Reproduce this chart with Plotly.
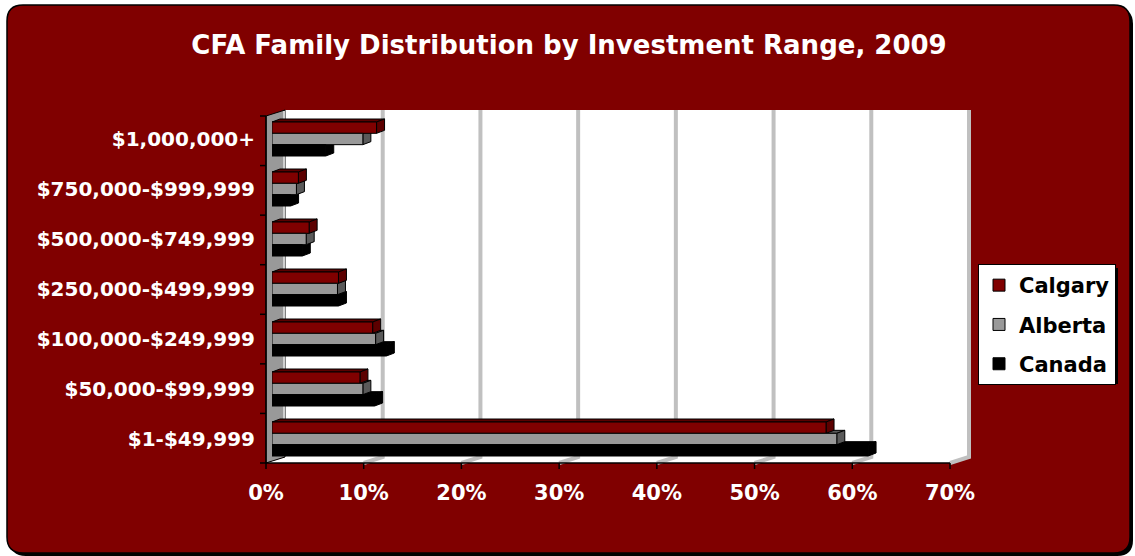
import plotly.graph_objects as go

# ---------------- data ----------------
categories = ["$1,000,000+", "$750,000-$999,999", "$500,000-$749,999",
              "$250,000-$499,999", "$100,000-$249,999", "$50,000-$99,999",
              "$1-$49,999"]
calgary = [10.7, 2.7, 3.8, 6.8, 10.3, 9.0, 56.7]
alberta = [9.3, 2.5, 3.5, 6.7, 10.6, 9.3, 57.8]
canada = [5.5, 1.9, 3.1, 6.8, 11.7, 10.5, 61.0]
series_names = ["Calgary", "Alberta", "Canada"]
tick_vals = [0, 10, 20, 30, 40, 50, 60, 70]
tick_text = ["0%", "10%", "20%", "30%", "40%", "50%", "60%", "70%"]

# ---------------- styling ----------------
W, H = 1135, 556
L, R, T, B = 272, 179, 114, 92
PW, PH = W - L - R, H - T - B
XMAX = 70
RED = "#800000"
FONT = "DejaVu Sans"
face_cols = [RED, "#999999", "#000000"]
side_cols = ["#5c0000", "#5a5a5a", "#000000"]


def X(px):
    return (px - L) / PW


def Y(py):
    return (T + PH - py) / PH


def path_px(points, close=True):
    s = ""
    for cmd, pts in points:
        s += cmd + " ".join(f"{X(a):.5f},{Y(b):.5f}" for a, b in pts) + " "
    return s + ("Z" if close else "")


def rounded_rect(x0, y0, x1, y1, r):
    return path_px([
        ("M", [(x0 + r, y0)]), ("L", [(x1 - r, y0)]), ("Q", [(x1, y0), (x1, y0 + r)]),
        ("L", [(x1, y1 - r)]), ("Q", [(x1, y1), (x1 - r, y1)]),
        ("L", [(x0 + r, y1)]), ("Q", [(x0, y1), (x0, y1 - r)]),
        ("L", [(x0, y0 + r)]), ("Q", [(x0, y0), (x0 + r, y0)]),
    ])


shapes = []
# outer rounded frame with shadow
shapes.append(dict(type="path", xref="paper", yref="paper", layer="below",
                   path=rounded_rect(10, 8, 1133, 556, 16), fillcolor="#000000",
                   line=dict(width=0)))
shapes.append(dict(type="path", xref="paper", yref="paper", layer="below",
                   path=rounded_rect(7, 5, 1130, 553, 16), fillcolor=RED,
                   line=dict(color="#000000", width=1.5)))

# 3D walls
FRONT_L, BACK_L = 266, 285
TOP_F, TOP_B = 116, 110
BOT_F, BOT_B = 463, 457
SCALE = PW / XMAX
# back wall
shapes.append(dict(type="path", xref="paper", yref="paper", layer="below",
                   path=path_px([("M", [(BACK_L, TOP_B)]), ("L", [(969, TOP_B)]),
                                 ("L", [(969, BOT_B)]), ("L", [(BACK_L, BOT_B)])]),
                   fillcolor="#ffffff", line=dict(width=0)))
# floor
shapes.append(dict(type="path", xref="paper", yref="paper", layer="below",
                   path=path_px([("M", [(FRONT_L, BOT_F)]), ("L", [(BACK_L, BOT_B)]),
                                 ("L", [(969, BOT_B)]), ("L", [(950, BOT_F)])]),
                   fillcolor="#ffffff", line=dict(width=0)))
# gridlines (back wall + floor kink)
for v in tick_vals[1:]:
    xb = BACK_L + v * SCALE
    xf = FRONT_L + v * SCALE
    shapes.append(dict(type="path", xref="paper", yref="paper", layer="below",
                       path=path_px([("M", [(xb, TOP_B)]), ("L", [(xb, BOT_B)]),
                                     ("L", [(xf, BOT_F)])], close=False),
                       line=dict(color="#c0c0c0", width=4)))
# left wall
shapes.append(dict(type="path", xref="paper", yref="paper", layer="below",
                   path=path_px([("M", [(FRONT_L, TOP_F)]), ("L", [(BACK_L, TOP_B)]),
                                 ("L", [(BACK_L, BOT_B)]), ("L", [(FRONT_L, BOT_F)])]),
                   fillcolor="#999999", line=dict(color="#000000", width=1)))
shapes.append(dict(type="line", xref="paper", yref="paper", layer="below",
                   x0=X(BACK_L - 1), x1=X(BACK_L - 1), y0=Y(TOP_B + 1), y1=Y(BOT_B - 1),
                   line=dict(color="#d0d0d0", width=2)))
# front axis lines & ticks
shapes.append(dict(type="line", xref="paper", yref="paper", layer="below",
                   x0=X(FRONT_L), x1=X(950), y0=Y(BOT_F), y1=Y(BOT_F),
                   line=dict(color="#000000", width=1.5)))
shapes.append(dict(type="line", xref="paper", yref="paper", layer="below",
                   x0=X(FRONT_L), x1=X(FRONT_L), y0=Y(TOP_F), y1=Y(BOT_F),
                   line=dict(color="#000000", width=1.5)))
for v in tick_vals:
    xf = FRONT_L + v * SCALE
    shapes.append(dict(type="line", xref="paper", yref="paper", layer="below",
                       x0=X(xf), x1=X(xf), y0=Y(BOT_F), y1=Y(BOT_F + 6),
                       line=dict(color="#000000", width=1.5)))
n = len(categories)
for k in range(n + 1):
    yy = TOP_F + k * (BOT_F - TOP_F) / n
    shapes.append(dict(type="line", xref="paper", yref="paper", layer="below",
                       x0=X(FRONT_L - 6), x1=X(FRONT_L), y0=Y(yy), y1=Y(yy),
                       line=dict(color="#000000", width=1.5)))

# 3D faces of bars (derived from the data values)
BARGAP = 0.32
bw = (1 - BARGAP) / 3
DX = 8 / SCALE
DY = 3 / (PH / n)
all_series = [calgary, alberta, canada]
for s_idx in [2, 1, 0]:
    vals = all_series[s_idx]
    for i, v in enumerate(vals):
        y0 = i - (1 - BARGAP) / 2 + s_idx * bw
        y1 = y0 + bw
        top = f"M0,{y0} L{v},{y0} L{v + DX},{y0 - DY} L{DX},{y0 - DY} Z"
        side = f"M{v},{y0} L{v + DX},{y0 - DY} L{v + DX},{y1 - DY} L{v},{y1} Z"
        for p in (top, side):
            shapes.append(dict(type="path", xref="x", yref="y", layer="between",
                               path=p, fillcolor=side_cols[s_idx],
                               line=dict(color="#000000", width=1)))

# legend shadow
shapes.append(dict(type="rect", xref="paper", yref="paper", layer="below",
                   x0=X(982), x1=X(1118), y0=Y(268), y1=Y(384),
                   fillcolor="#000000", line=dict(width=0)))

fig = go.Figure()
for s_idx, (name, vals) in enumerate(zip(series_names, all_series)):
    fig.add_trace(go.Bar(
        y=categories, x=vals, name=name, orientation="h",
        marker=dict(color=face_cols[s_idx], line=dict(color="#000000", width=1)),
        legendgroup=name,
    ))

fig.update_layout(
    width=W, height=H,
    margin=dict(l=L, r=R, t=T, b=B),
    paper_bgcolor="#ffffff",
    plot_bgcolor="rgba(0,0,0,0)",
    barmode="group", bargap=BARGAP, bargroupgap=0,
    shapes=shapes,
    font=dict(family=FONT, color="#ffffff"),
    title=dict(text="CFA Family Distribution by Investment Range, 2009",
               x=569 / W, xanchor="center", y=1 - 45 / H, yanchor="middle",
               font=dict(family=FONT, size=26, color="#ffffff", weight="bold")),
    xaxis=dict(range=[0, XMAX], tickvals=tick_vals, ticktext=tick_text,
               showgrid=False, zeroline=False, showline=False, ticks="",
               tickfont=dict(family=FONT, size=21, color="#ffffff", weight="bold"),
               ticklabelstandoff=14, ticklabelshift=-6, fixedrange=True),
    yaxis=dict(autorange="reversed", showgrid=False, zeroline=False, showline=False,
               ticks="", tickfont=dict(family=FONT, size=20, color="#ffffff", weight="bold"),
               ticklabelstandoff=16, fixedrange=True),
    legend=dict(x=X(978), y=Y(264), xanchor="left", yanchor="top",
                bgcolor="#ffffff", bordercolor="#000000", borderwidth=1,
                font=dict(family=FONT, size=21, color="#000000", weight="bold"),
                traceorder="grouped", tracegroupgap=9, itemwidth=30),
    showlegend=True,
)

fig.write_html("out.html", config={"displayModeBar": False},
               post_script="document.body.style.margin='0px';document.body.style.overflow='hidden';")
